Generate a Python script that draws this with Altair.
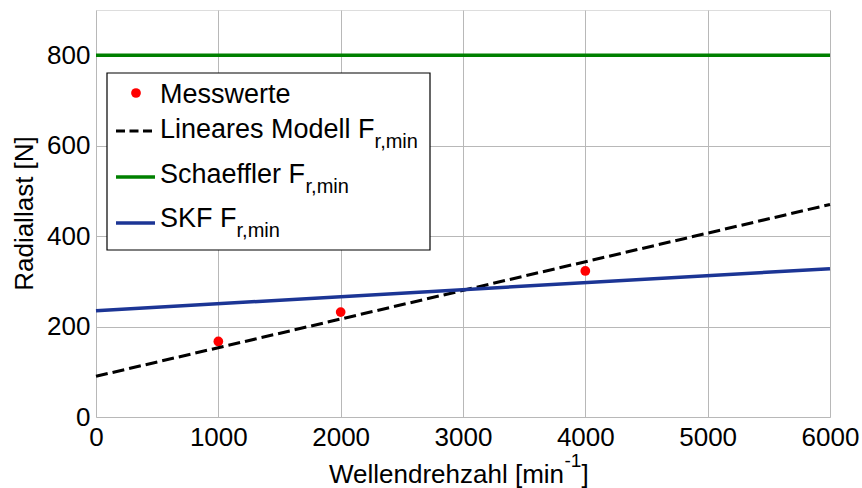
import altair as alt
import pandas as pd

# ---- data ----
mess_x = [1000, 2000, 4000]
mess_y = [167, 232, 323]
line_x = [0, 6000]
linear_y = [90, 470]
schaeffler_y = [800, 800]
skf_y = [235, 328]
x_ticks = [0, 1000, 2000, 3000, 4000, 5000, 6000]
y_ticks = [0, 200, 400, 600, 800]
legend_labels = ["Messwerte", "Lineares Modell F", "Schaeffler F", "SKF F"]
legend_sub = "r,min"

FONT = "Liberation Sans"
GREEN = "#008000"
BLUE = "#1c3595"
RED = "#ff0000"

# Arial advance widths (em) for layout of sub/superscripts
AW = {'L': .556, 'i': .222, 'n': .556, 'e': .556, 'a': .556, 'r': .333, 's': .5, ' ': .278,
      'M': .833, 'o': .556, 'd': .556, 'l': .222, 'F': .611, 'S': .667, 'c': .5, 'h': .556,
      'f': .278, 'K': .667, 'W': .944, 'z': .5, '[': .278, 'm': .833, ']': .278, '-': .333,
      '1': .556, 'w': .722, 't': .278}


def tw(s, size):
    return sum(AW.get(ch, .556) for ch in s) * size


mess = pd.DataFrame({"x": mess_x, "y": mess_y})
lines = pd.DataFrame({
    "x": line_x * 3,
    "y": linear_y + schaeffler_y + skf_y,
    "s": ["lin"] * 2 + ["sch"] * 2 + ["skf"] * 2,
})

xs = alt.X("x:Q", scale=alt.Scale(domain=[0, 6000], nice=False),
           axis=alt.Axis(values=x_ticks, title=None, grid=True, ticks=False, domain=False,
                         labelFont=FONT, labelFontSize=26, labelColor="#000", labelPadding=7,
                         labelFlush=False, labelOverlap=False,
                         gridColor="#b8b8b8", gridWidth=1, format="d"))
ys = alt.Y("y:Q", scale=alt.Scale(domain=[0, 900], nice=False),
           axis=alt.Axis(values=y_ticks, title=None, grid=True, ticks=False, domain=False,
                         labelFont=FONT, labelFontSize=26, labelColor="#000", labelPadding=6,
                         labelFlush=False, labelOverlap=False,
                         gridColor="#b8b8b8", gridWidth=1, format="d"))

base_lines = alt.Chart(lines)
lin = base_lines.transform_filter(alt.datum.s == "lin").mark_line(
    color="#000", strokeWidth=3, strokeDash=[12, 5]).encode(x=xs, y=ys)
sch = base_lines.transform_filter(alt.datum.s == "sch").mark_line(
    color=GREEN, strokeWidth=3.5).encode(x=xs, y=ys)
skf = base_lines.transform_filter(alt.datum.s == "skf").mark_line(
    color=BLUE, strokeWidth=3.5).encode(x=xs, y=ys)
pts = alt.Chart(mess).mark_point(filled=True, shape="circle", size=95, color=RED,
                                 opacity=1).encode(x=xs, y=ys)

one = pd.DataFrame({"a": [0]})


def txt(s, x, y, size, align="left", angle=0):
    props = dict(font=FONT, fontSize=size, align=align, baseline="alphabetic", color="#000")
    if angle:
        props["angle"] = angle
    return alt.Chart(pd.DataFrame({"t": [s]})).mark_text(**props).encode(
        x=alt.value(x), y=alt.value(y), text="t:N")


def seg(x1, x2, y, color, dash=None, width=3.5):
    props = dict(color=color, strokeWidth=width)
    if dash:
        props["strokeDash"] = dash
    return alt.Chart(one).mark_rule(**props).encode(
        x=alt.value(x1), x2=alt.value(x2), y=alt.value(y))


# legend
box = alt.Chart(one).mark_rect(fill="white", stroke="#000", strokeWidth=1.2).encode(
    x=alt.value(11), x2=alt.value(334), y=alt.value(63), y2=alt.value(240))
leg_dot = alt.Chart(one).mark_point(filled=True, shape="circle", size=95, color=RED,
                                    opacity=1).encode(x=alt.value(40), y=alt.value(83))
LX = 64
LS = 27
SS = 20
base_y = [93, 128, 173, 217]
legend_layers = [box, leg_dot,
                 seg(20, 59, 121, "#000", dash=[9, 4.5], width=3),
                 seg(20, 59, 167, GREEN),
                 seg(20, 59, 213, BLUE)]
for i, lab in enumerate(legend_labels):
    legend_layers.append(txt(lab, LX, base_y[i], LS))
    if i > 0:
        legend_layers.append(txt(legend_sub, LX + tw(lab, LS), base_y[i] + 10, SS))

# axis titles
xt_main = "Wellendrehzahl [min"
xt_x = 233
xt_base = 473
xtitle = [txt(xt_main, xt_x, xt_base, 26),
          txt("-1", xt_x + tw(xt_main, 26), xt_base - 16, 19),
          txt("]", xt_x + tw(xt_main, 26) + tw("-1", 19), xt_base, 26)]
ytitle = txt("Radiallast [N]", -63, 203.5, 26, align="center", angle=270)

chart = alt.layer(sch, pts, lin, skf, *legend_layers, *xtitle, ytitle).properties(
    width=734, height=407,
    autosize=alt.AutoSizeParams(type="none"),
    padding={"left": 96, "top": 10, "right": 32, "bottom": 71},
).configure_view(stroke="#000", strokeWidth=1.5).configure(background="white")

chart.save("out.html", embed_options={"renderer": "svg", "actions": False})
